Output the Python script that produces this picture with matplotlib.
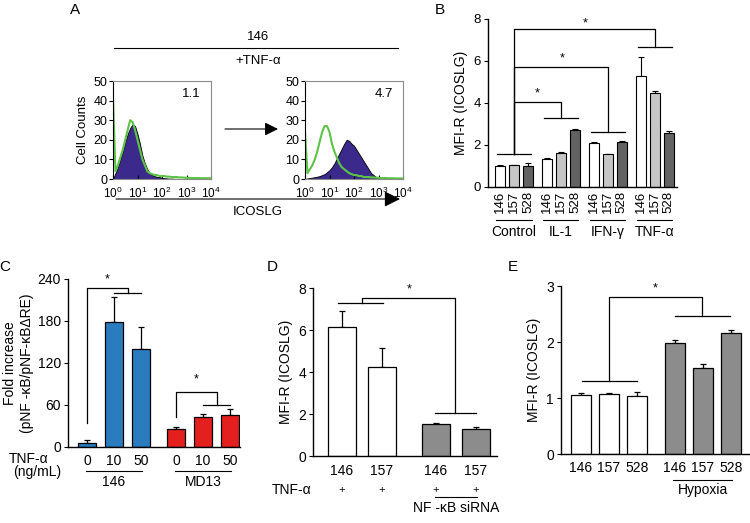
import numpy as np
import matplotlib.pyplot as plt
from matplotlib.lines import Line2D
from matplotlib.patches import FancyArrowPatch

plt.rcParams["font.family"] = ["Liberation Sans", "DejaVu Sans"]
plt.rcParams["font.size"] = 8

W, H = 750, 523

# ---- panel A: flow histograms, counts every 0.1 decade from 10^0 to 10^4
decades = np.arange(0, 41) / 10
a_ctrl_icoslg = [0, 3, 6, 10, 14, 19, 23, 26, 28, 27, 23, 18, 12, 8, 5, 3, 2, 1.5, 1, 1, 0.6,
                 0.4, 0.3, 0.2, 0.2, 0.1, 0.1, 0, 0, 0, 0, 0, 0, 0, 0, 0, 0, 0, 0, 0, 0]
a_ctrl_iso = [42, 4, 7, 11, 15, 20, 25, 30, 29, 25, 20, 15, 10, 7, 4, 3, 2.5, 2, 2, 1.5, 1.5,
              1.5, 1.2, 1.2, 1, 1, 1, 0.8, 0.8, 0.7, 0.6, 0.6, 0.5, 0.5, 0.5, 0.5, 0.4, 0.4, 0.4, 0.4, 0.4]
a_tnf_icoslg = [0, 0.3, 0.5, 0.7, 1, 1.2, 1.5, 2, 2.5, 3.5, 4.5, 6, 8, 10.5, 13, 15.5, 18, 20,
                19.5, 18, 17, 15, 13, 11, 9, 7, 5, 3, 2, 1, 0.5, 0.2, 0, 0, 0, 0, 0, 0, 0, 0, 0]
a_tnf_iso = [24, 3, 5, 7, 10, 14, 19, 24, 27, 27, 24, 18, 14, 11, 8, 6, 5, 4, 3, 2.5, 2, 2, 1.5,
             1.5, 1, 1, 1, 0.8, 0.8, 0.7, 0.6, 0.5, 0.5, 0.5, 0.4, 0.4, 0.4, 0.3, 0.3, 0.3, 0.3]
a_mfi = ["1.1", "4.7"]

# ---- panel B
b_groups = ["Control", "IL-1", "IFN-γ", "TNF-α"]
b_lines = ["146", "157", "528"]
b_means = [[1.02, 1.04, 1.02], [1.33, 1.62, 2.72], [2.08, 1.56, 2.13], [5.30, 4.49, 2.56]]
b_errs = [[0.05, 0.03, 0.10], [0.07, 0.04, 0.06], [0.04, 0.03, 0.04], [0.90, 0.10, 0.11]]

# ---- panel C
c_doses = ["0", "10", "50"]
c_cells = ["146", "MD13"]
c_means = [[6.2, 178, 140.5], [26.3, 42.5, 46.4]]
c_errs = [[3.4, 36, 30.5], [2.7, 4.5, 8.6]]

# ---- panel D
d_lines = ["146", "157", "146", "157"]
d_means = [6.16, 4.22, 1.52, 1.27]
d_errs = [0.74, 0.90, 0.06, 0.12]

# ---- panel E
e_lines = ["146", "157", "528"]
e_ctrl = [1.05, 1.07, 1.03]
e_ctrl_err = [0.04, 0.02, 0.08]
e_hyp = [1.99, 1.53, 2.16]
e_hyp_err = [0.05, 0.07, 0.05]

FS = 10

fig = plt.figure(figsize=(W / 100, H / 100), dpi=100)


def add_ax(l, t, r, b):
    return fig.add_axes([l / W, 1 - b / H, (r - l) / W, (b - t) / H])


def ftext(x, y, s, **kw):
    kw.setdefault("ha", "center")
    kw.setdefault("va", "center")
    fig.text(x / W, 1 - y / H, s, **kw)


def fline(x0, y0, x1, y1, **kw):
    fig.add_artist(Line2D([x0 / W, x1 / W], [1 - y0 / H, 1 - y1 / H],
                          transform=fig.transFigure, color="k", lw=0.8, **kw))


def farrow(x0, x1, y, ms):
    fig.add_artist(FancyArrowPatch(
        (x0 / W, 1 - y / H), (x1 / W, 1 - y / H), transform=fig.transFigure,
        arrowstyle="-|>", mutation_scale=ms, color="k", lw=0.8, shrinkA=0, shrinkB=0))


def bracket(ax, pts, **kw):
    xs, ys = zip(*pts)
    ax.plot(xs, ys, color="k", lw=0.9, clip_on=False, **kw)


def bar_style(ax, fs=FS):
    for s in ["top", "right"]:
        ax.spines[s].set_visible(False)
    ax.spines["left"].set_linewidth(1)
    ax.spines["bottom"].set_linewidth(1)
    ax.tick_params(axis="y", direction="out", length=3, width=0.8, labelsize=fs, pad=2)
    ax.tick_params(axis="x", length=0, labelsize=fs)


# ================= A
purple = "#3b2a8c"
green = "#5cc444"
for i, (icos, iso) in enumerate([(a_ctrl_icoslg, a_ctrl_iso), (a_tnf_icoslg, a_tnf_iso)]):
    ax = add_ax(113 + 192 * i, 81, 211 + 192 * i, 179)
    xv = 10 ** decades
    ax.fill_between(xv, icos, color=purple, edgecolor="k", lw=0.6)
    ax.plot(xv, iso, color=green, lw=1.5)
    ax.set_xscale("log")
    ax.set_xlim(1, 1e4)
    ax.set_ylim(0, 50)
    ax.set_yticks(range(0, 51, 10))
    ax.set_xticks([1, 10, 100, 1000, 10000])
    for s in ax.spines.values():
        s.set_color("#8a8a8a")
    ax.spines["left"].set_color("k")
    ax.tick_params(axis="y", direction="out", length=3, labelsize=9, pad=1)
    ax.tick_params(axis="x", which="major", direction="in", length=3, labelsize=8.5, pad=5)
    ax.tick_params(axis="x", which="minor", direction="in", length=1.5)
    ax.text(0.8, 0.87, a_mfi[i], transform=ax.transAxes, ha="center", va="center", fontsize=9.5)
    if i == 0:
        ax.set_ylabel("Cell Counts", fontsize=9.5, labelpad=3)

ftext(75, 10, "A", fontsize=11)
ftext(258, 37, "146", fontsize=9.5)
fline(114, 48, 398, 48)
ftext(258, 61, "+TNF-α", fontsize=9.5)
farrow(225, 278, 129, 20)
farrow(116, 400, 199, 24)
ftext(258, 212, "ICOSLG", fontsize=9.5)

# ================= B
ax = add_ax(488, 19, 677, 187)
bar_style(ax, 9.5)
b_colors = ["white", "#c6c6c6", "#626262"]
gstep = 3.35
pos, labs = [], []
for g, grp in enumerate(b_groups):
    x0 = g * gstep
    xs = [x0 + k for k in range(3)]
    ax.bar(xs, b_means[g], width=0.72, color=b_colors, edgecolor="k", lw=0.8, zorder=2)
    ax.errorbar(xs, b_means[g], yerr=[[0] * 3, b_errs[g]], fmt="none", ecolor="k",
                elinewidth=0.8, capsize=2, capthick=0.8, zorder=1)
    pos += xs
    labs += b_lines
    ax.plot([x0 - 0.25, x0 + 2.25], [-1.58, -1.58], color="k", lw=0.8, clip_on=False)
    ax.text(x0 + 1, -2.12, grp, ha="center", va="center", fontsize=FS)
ax.set_xticks(pos, labs, rotation=90, fontsize=9.5)
ax.tick_params(axis="x", pad=3)
ax.set_xlim(-0.857, 12.64)
ax.set_ylim(0, 8)
ax.set_yticks(range(0, 9, 2))
ax.set_ylabel("MFI-R (ICOSLG)", fontsize=FS, labelpad=4)
# significance brackets
base = 1.55
bracket(ax, [(-0.2, base), (2.2, base)])
for g, line_h, top_h, sx, sy in [(1, 3.27, 4.05, 2.64, 4.45), (2, 2.6, 5.7, 4.43, 6.12),
                                 (3, 6.67, 7.5, 6.07, 7.8)]:
    x0 = g * gstep
    bracket(ax, [(x0 - 0.2, line_h), (x0 + 2.2, line_h)])
    bracket(ax, [(1, base), (1, top_h), (x0 + 1, top_h), (x0 + 1, line_h)])
    ax.text(sx, sy, "*", ha="center", va="center", fontsize=9, clip_on=False)
ftext(440, 10, "B", fontsize=11)

# ================= C
ax = add_ax(68, 279, 240, 447)
bar_style(ax)
c_colors = ["#2b7bbf", "#e3201e"]
cstep = 3.3
pos, labs = [], []
for g in range(2):
    xs = [g * cstep + k for k in range(3)]
    ax.bar(xs, c_means[g], width=0.67, color=c_colors[g], edgecolor="k", lw=0.9, zorder=2)
    ax.errorbar(xs, c_means[g], yerr=[[0] * 3, c_errs[g]], fmt="none", ecolor="k",
                elinewidth=0.9, capsize=2, capthick=0.9, zorder=1)
    pos += xs
    labs += c_doses
    ax.plot([g * cstep - 0.05, g * cstep + 2.05], [-0.145, -0.145], transform=ax.get_xaxis_transform(),
            color="k", lw=0.8, clip_on=False)
    ax.text(g * cstep + 1, -0.21, c_cells[g], transform=ax.get_xaxis_transform(),
            ha="center", va="center", fontsize=FS)
ax.set_xticks(pos, labs)
ax.tick_params(axis="x", pad=5)
ax.set_xlim(-0.7, 5.67)
ax.set_ylim(0, 240)
ax.set_yticks(range(0, 241, 60))
ax.set_ylabel("Fold increase\n(pNF -κB/pNF-κBΔRE)", fontsize=FS, labelpad=3)
bracket(ax, [(0, 34), (0, 227), (1.52, 227), (1.52, 220)])
bracket(ax, [(1, 220), (2, 220)])
ax.text(0.74, 240, "*", ha="center", va="center", fontsize=9, clip_on=False)
bracket(ax, [(cstep, 43), (cstep, 79), (cstep + 1.5, 79), (cstep + 1.5, 60)])
bracket(ax, [(cstep + 1, 60), (cstep + 2, 60)])
ax.text(cstep + 0.74, 96, "*", ha="center", va="center", fontsize=9, clip_on=False)
ftext(29, 459, "TNF-α", fontsize=FS)
ftext(37, 472, "(ng/mL)", fontsize=FS)
ftext(5, 267, "C", fontsize=11)

# ================= D
ax = add_ax(313, 288, 497, 456)
bar_style(ax)
d_pos = [0, 1, 2.35, 3.35]
d_colors = ["white", "white", "#8c8c8c", "#8c8c8c"]
ax.bar(d_pos, d_means, width=0.7, color=d_colors, edgecolor="k", lw=0.9, zorder=2)
ax.errorbar(d_pos, d_means, yerr=[[0] * 4, d_errs], fmt="none", ecolor="k",
            elinewidth=0.9, capsize=2.5, capthick=0.9, zorder=1)
ax.set_xticks(d_pos, d_lines)
ax.tick_params(axis="x", pad=6)
ax.set_xlim(-0.725, 3.875)
ax.set_ylim(0, 8)
ax.set_yticks(range(0, 9, 2))
ax.set_ylabel("MFI-R (ICOSLG)", fontsize=FS, labelpad=4)
bracket(ax, [(-0.1, 7.29), (1.02, 7.29)])
bracket(ax, [(0.5, 7.29), (0.5, 7.52), (2.83, 7.52), (2.83, 2.03)])
bracket(ax, [(2.33, 2.03), (3.35, 2.03)])
ax.text(1.68, 7.95, "*", ha="center", va="center", fontsize=9, clip_on=False)
xt = ax.get_xaxis_transform()
for x in d_pos:
    ax.text(x, -0.2, "+", transform=xt, ha="center", va="center", fontsize=8)
ax.plot([2.33, 3.37], [-0.245, -0.245], transform=xt, color="k", lw=0.8, clip_on=False)
ax.text(2.85, -0.31, "NF -κB siRNA", transform=xt, ha="center", va="center", fontsize=FS)
ftext(292, 490, "TNF-α", fontsize=FS)
ftext(272, 267, "D", fontsize=11)

# ================= E
ax = add_ax(561, 286, 750, 454)
bar_style(ax)
estep = 3.35
xs0 = [k for k in range(3)]
xs1 = [estep + k for k in range(3)]
ax.bar(xs0, e_ctrl, width=0.71, color="white", edgecolor="k", lw=0.9, zorder=2)
ax.bar(xs1, e_hyp, width=0.71, color="#8c8c8c", edgecolor="k", lw=0.9, zorder=2)
ax.errorbar(xs0 + xs1, e_ctrl + e_hyp, yerr=[[0] * 6, e_ctrl_err + e_hyp_err], fmt="none",
            ecolor="k", elinewidth=0.9, capsize=2.5, capthick=0.9, zorder=1)
ax.set_xticks(xs0 + xs1, e_lines + e_lines)
ax.tick_params(axis="x", pad=5)
ax.set_xlim(-0.714, 6.04)
ax.set_ylim(0, 3)
ax.set_yticks(range(0, 4))
ax.set_ylabel("MFI-R (ICOSLG)", fontsize=FS, labelpad=4)
bracket(ax, [(0.03, 1.30), (2.0, 1.30)])
bracket(ax, [(1, 1.30), (1, 2.80), (estep + 0.97, 2.80), (estep + 0.97, 2.46)])
bracket(ax, [(estep, 2.46), (estep + 1.97, 2.46)])
ax.text(2.64, 2.95, "*", ha="center", va="center", fontsize=9, clip_on=False)
xt = ax.get_xaxis_transform()
ax.plot([estep - 0.05, estep + 2.05], [-0.155, -0.155], transform=xt, color="k", lw=0.8, clip_on=False)
ax.text(estep + 1, -0.215, "Hypoxia", transform=xt, ha="center", va="center", fontsize=FS)
ftext(513, 267, "E", fontsize=11)

fig.savefig("out.png", dpi=100)
